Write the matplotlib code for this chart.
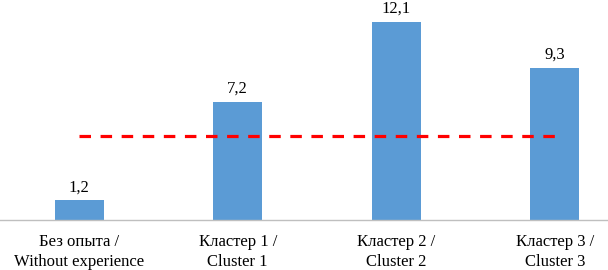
import matplotlib
matplotlib.use("Agg")
import matplotlib.pyplot as plt

categories = ["Без опыта /\nWithout experience", "Кластер 1 /\nCluster 1",
              "Кластер 2 /\nCluster 2", "Кластер 3 /\nCluster 3"]
values = [1.2, 7.2, 12.1, 9.3]
value_labels = ["1,2", "7,2", "12,1", "9,3"]
average = [5.1, 5.1, 5.1, 5.1]

plt.rcParams['font.family'] = ['Liberation Serif', 'DejaVu Serif']

fig = plt.figure(figsize=(6.08, 2.70), dpi=100)
ax = fig.add_axes([0, 0.185, 1, 0.815])

x = list(range(len(categories)))
bars = ax.bar(x, values, width=0.31, color='#5B9BD5', zorder=2)
ax.plot(x, average, color='#FF0000', linewidth=2.3, dashes=(3.6, 3.0), zorder=3)

for xi, v, lab in zip(x, values, value_labels):
    ax.annotate(lab, xy=(xi, v), xytext=(0, 3.5), textcoords='offset points',
                ha='center', va='bottom', fontsize=12)

ax.set_xlim(-0.5, -0.5 + 608 / 158.5)
ax.set_ylim(0, 13.42)
ax.set_xticks(x)
ax.set_xticklabels(categories, fontsize=12, linespacing=1.3)
ax.tick_params(axis='x', length=0, pad=10)
ax.set_yticks([])
for s in ['top', 'right', 'left']:
    ax.spines[s].set_visible(False)
ax.spines['bottom'].set_color('#BFBFBF')
ax.spines['bottom'].set_linewidth(1)

fig.savefig('out.png', dpi=100)
